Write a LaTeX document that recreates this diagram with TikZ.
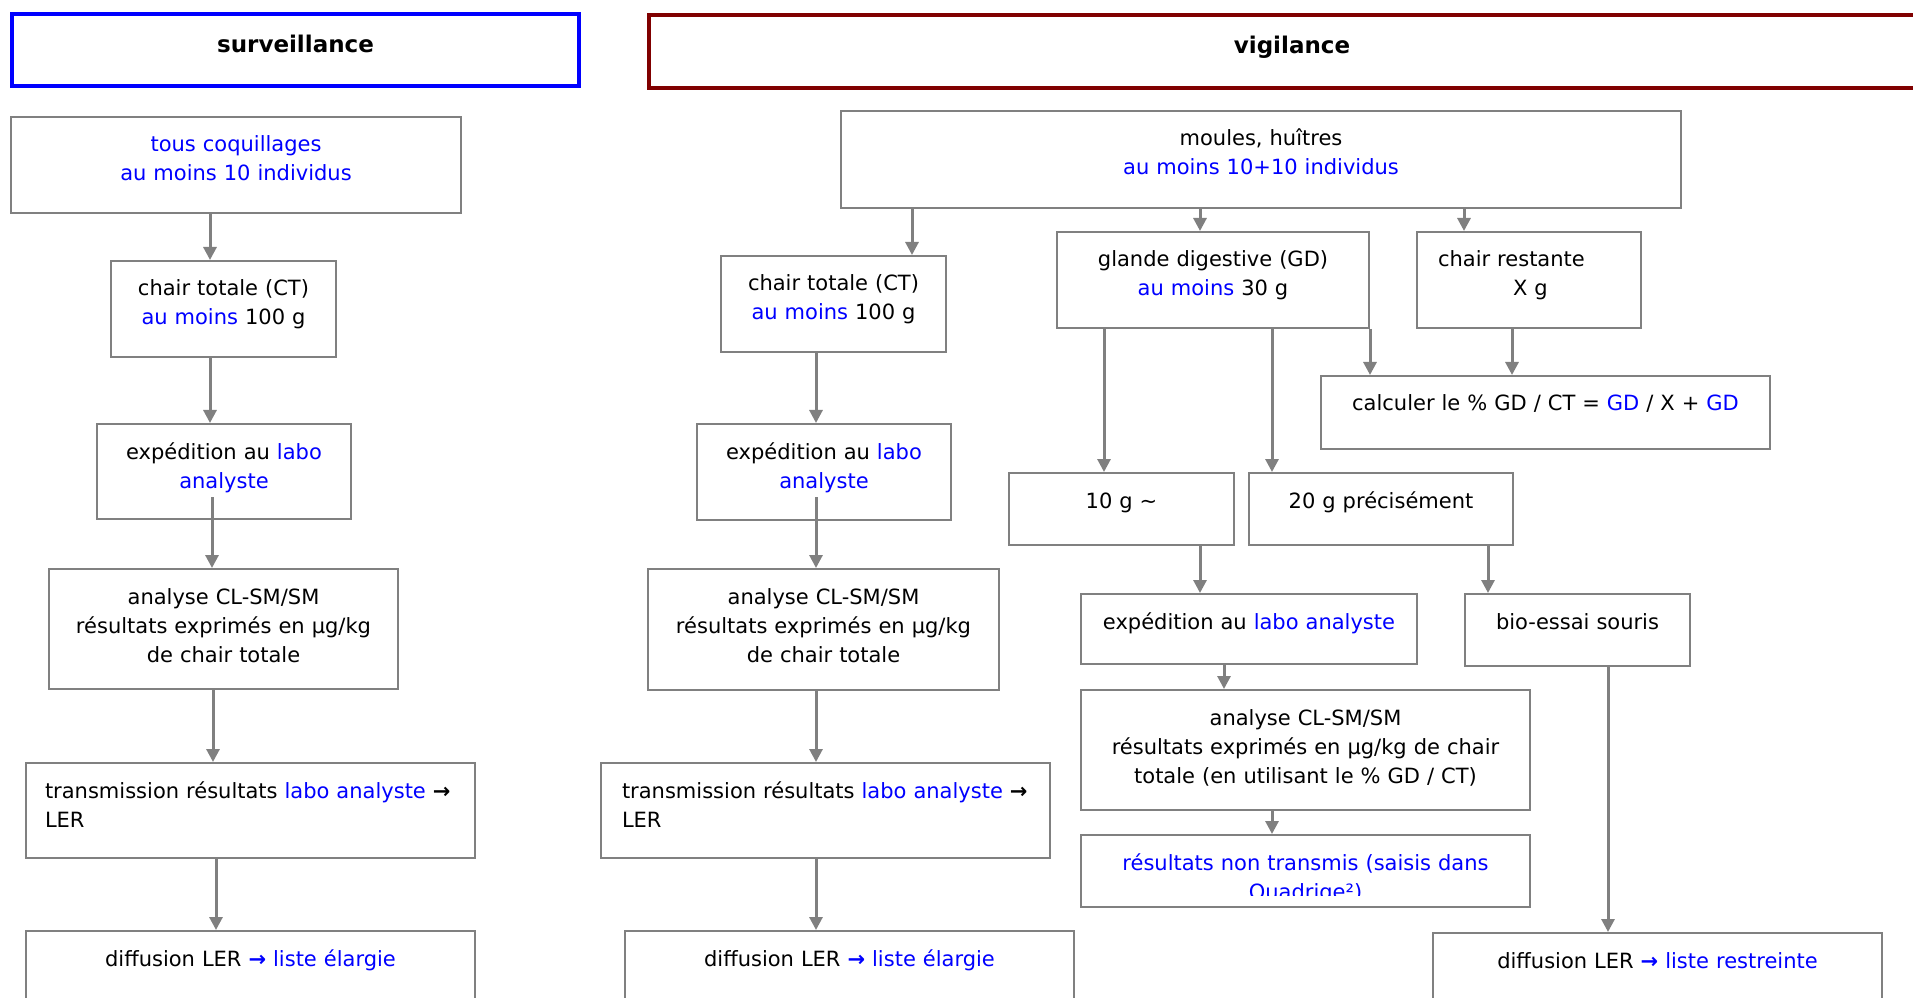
\documentclass[tikz,border=0pt]{standalone}
\usepackage{fontspec}
\setmainfont{DejaVu Sans}
\usetikzlibrary{arrows.meta}

\definecolor{linegray}{RGB}{128,128,128}
\definecolor{txtblue}{RGB}{0,0,255}
\definecolor{survblue}{RGB}{0,0,255}
\definecolor{vigired}{RGB}{128,0,0}
\newcommand{\bl}[1]{\textcolor{txtblue}{#1}}
\newcommand{\fl}{\textbf{→}}

\tikzset{every picture/.style={line width=0.75pt}}
\tikzset{
  blk/.style={draw=linegray, line width=1.5pt, anchor=north west, inner xsep=0pt, inner ysep=0pt,
    align=center, text height=26.25pt, font=\fontsize{15.75}{21.75}\selectfont},
  blkl/.style={blk, align=left, inner xsep=15.75pt},
  ttl/.style={line width=3pt, anchor=north west, inner sep=0pt, align=center,
    text height=29.25pt, font=\fontsize{17.25}{21.75}\selectfont\bfseries},
  arr/.style={draw=linegray, line width=2.25pt, -{Triangle[width=9.75pt,length=9.75pt]}}
}

\begin{document}
\begin{tikzpicture}[x=0.75pt,y=0.75pt,yscale=-1,xscale=1]
\useasboundingbox (0,0) rectangle (1913,998);
\clip (0,0) rectangle (1913,998);

%Shape: Rectangle (titles)
\node[ttl, draw=survblue, text width=425.25pt, text depth=24.75pt] (surv) at (10,12) {surveillance};
\node[ttl, draw=vigired, text width=964.5pt, text depth=25.5pt] (vigi) at (647,13) {vigilance};

% Text Node (surveillance column)
\node[blk, text width=337.5pt, text depth=45.75pt] (tous) at (10,116) {\bl{tous coquillages}\\\bl{au moins 10 individus}};
\node[blk, text width=168.75pt, text depth=45.75pt] (ctS) at (110,260) {chair totale (CT)\\\bl{au moins} 100 g};
\node[blk, text width=190.5pt, text depth=45pt] (expS) at (96,423) {expédition au \bl{labo}\\\bl{analyste}};
\node[blk, text width=261.75pt, text depth=63.75pt] (anaS) at (48,568) {analyse CL-SM/SM\\résultats exprimés en µg/kg\\de chair totale};
\node[blkl, inner xsep=14.25pt, text width=308.25pt, text depth=45pt] (trS) at (25,762) {\mbox{transmission résultats \bl{labo analyste} \fl}\\LER};
\node[blk, text width=336.75pt, text depth=45.75pt] (difS) at (25,930) {diffusion LER \bl{\fl{} liste élargie}};

% Text Node (vigilance, chair totale)
\node[blk, text width=630pt, text depth=46.5pt] (moules) at (840,110) {moules, huîtres\\\bl{au moins 10+10 individus}};
\node[blk, text width=168.75pt, text depth=45.75pt] (ctV) at (720,255) {chair totale (CT)\\\bl{au moins} 100 g};
\node[blk, text width=190.5pt, text depth=45.75pt] (expV) at (696,423) {expédition au \bl{labo}\\\bl{analyste}};
\node[blk, text width=263.25pt, text depth=64.5pt] (anaV) at (647,568) {analyse CL-SM/SM\\résultats exprimés en µg/kg\\de chair totale};
\node[blkl, text width=305.25pt, text depth=45pt] (trV) at (600,762) {\mbox{transmission résultats \bl{labo analyste} \fl}\\LER};
\node[blk, text width=336.75pt, text depth=45.75pt] (difV) at (624,930) {diffusion LER \bl{\fl{} liste élargie}};

% Text Node (vigilance, glande digestive)
\node[blk, text width=234pt, text depth=45.75pt] (gd) at (1056,231) {glande digestive (GD)\\\bl{au moins} 30 g};
\node[blkl, text width=136.5pt, text depth=45.75pt] (crest) at (1416,231) {chair restante\\\hspace*{56.25pt}X g};
\node[blk, text width=336.75pt, text depth=28.5pt] (calc) at (1320,375) {calculer le \% GD / CT = \bl{GD} / X + \bl{GD}};
\node[blk, text width=168.75pt, text depth=27.75pt] (dix) at (1008,472) {10 g \textasciitilde};
\node[blk, text width=198pt, text depth=27.75pt] (vingt) at (1248,472) {20 g précisément};
\node[blk, text width=252pt, text depth=26.25pt] (expGD) at (1080,593) {expédition au \bl{labo analyste}};
\node[blk, text width=168.75pt, text depth=27.75pt] (bio) at (1464,593) {bio-essai souris};
\node[blk, text width=336.75pt, text depth=63.75pt] (anaGD) at (1080,689) {analyse CL-SM/SM\\résultats exprimés en µg/kg de chair\\totale (en utilisant le \% GD / CT)};
\node[blk, text width=336.75pt, text depth=27.75pt] (nontr) at (1080,834) {};
\begin{scope}
\clip (1080,834) rectangle (1529,895);
\node[blk, draw=none, anchor=north, text width=336.75pt, text depth=27.75pt] (nontrtxt) at (nontr.north) {\bl{résultats non transmis (saisis dans}\\\bl{Quadrige²)}};
\end{scope}
\node[blk, text width=336.75pt, text depth=45.75pt] (difR) at (1432,932) {diffusion LER \bl{\fl{} liste restreinte}};

%Straight Lines (surveillance)
\draw[arr] (tous.south -| 210,0) -- (ctS.north -| 210,0);
\draw[arr] (ctS.south -| 210,0) -- (expS.north -| 210,0);
\coordinate (expSout) at (212,497);
\draw[arr] (expSout) -- (anaS.north -| expSout);
\draw[arr] (anaS.south -| 213,0) -- (trS.north -| 213,0);
\draw[arr] (trS.south -| 216,0) -- (difS.north -| 216,0);

%Straight Lines (vigilance, chair totale)
\draw[arr] (moules.south -| 912,0) -- (ctV.north -| 912,0);
\draw[arr] (ctV.south -| 816,0) -- (expV.north -| 816,0);
\coordinate (expVout) at (816,497);
\draw[arr] (expVout) -- (anaV.north -| expVout);
\draw[arr] (anaV.south -| 816,0) -- (trV.north -| 816,0);
\draw[arr] (trV.south -| 816,0) -- (difV.north -| 816,0);

%Straight Lines (vigilance, glande digestive)
\draw[arr] (moules.south -| 1200,0) -- (gd.north -| 1200,0);
\draw[arr] (moules.south -| 1464,0) -- (crest.north -| 1464,0);
\draw[arr] (gd.south -| 1104,0) -- (dix.north -| 1104,0);
\draw[arr] (gd.south -| 1272,0) -- (vingt.north -| 1272,0);
\draw[arr] (gd.south east) -- (calc.north -| gd.south east);
\draw[arr] (crest.south -| 1512,0) -- (calc.north -| 1512,0);
\draw[arr] (dix.south -| 1200,0) -- (expGD.north -| 1200,0);
\draw[arr] (vingt.south -| 1488,0) -- (bio.north -| 1488,0);
\draw[arr] (expGD.south -| 1224,0) -- (anaGD.north -| 1224,0);
\draw[arr] (anaGD.south -| 1272,0) -- (nontr.north -| 1272,0);
\draw[arr] (bio.south -| 1608,0) -- (difR.north -| 1608,0);

\end{tikzpicture}
\end{document}
